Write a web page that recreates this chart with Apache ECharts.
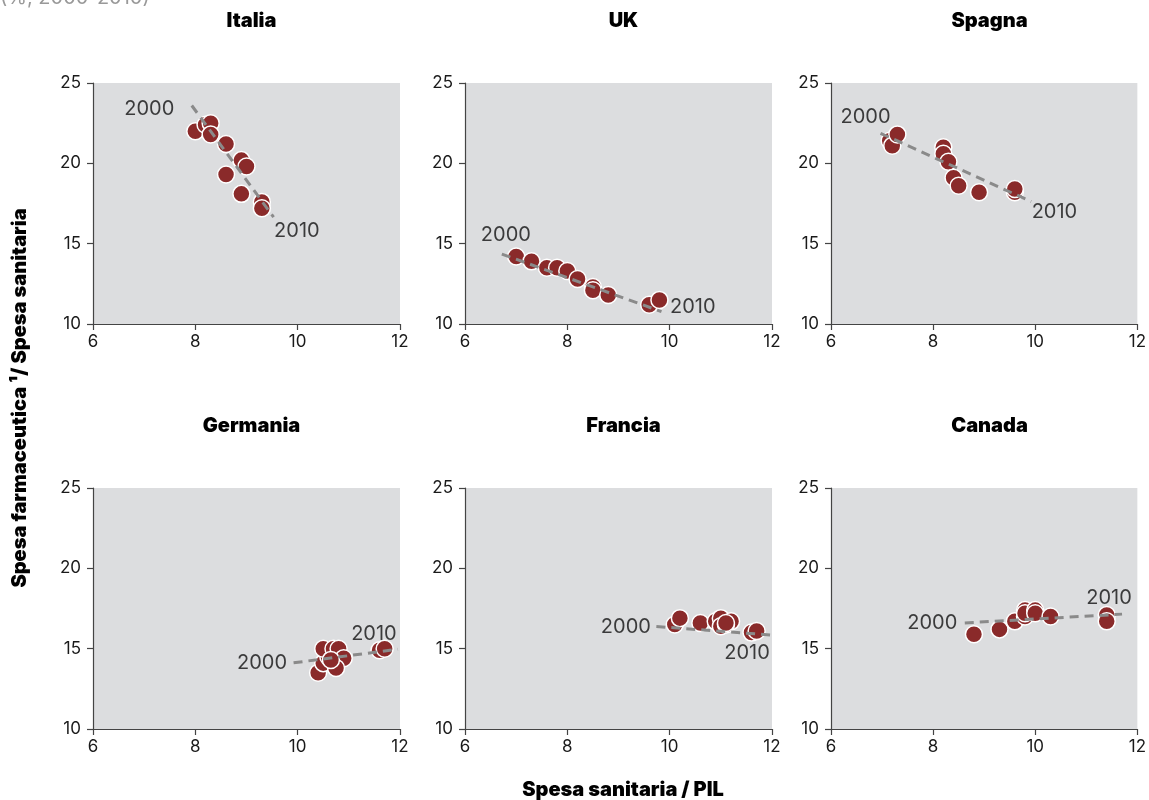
<!DOCTYPE html>
<html>
<head>
<meta charset="utf-8">
<script src="https://cdn.jsdelivr.net/npm/echarts@6/dist/echarts.min.js"></script>
<style>
html,body{margin:0;padding:0;background:#fff;}
#chart{width:1149px;height:800px;}
</style>
</head>
<body>
<div id="chart"></div>
<script>
// ---- Data ----
const countries = ['Italia', 'UK', 'Spagna', 'Germania', 'Francia', 'Canada'];
const yearStart = '2000';
const yearEnd = '2010';
const subtitle = '(%, 2000-2010)';
const xTitle = 'Spesa sanitaria / PIL';
const yTitle = 'Spesa farmaceutica \u00B9/ Spesa sanitaria';

const italia = [[8.0,22.0],[8.2,22.4],[8.3,22.5],[8.3,21.8],[8.6,21.2],[8.9,20.2],[9.0,19.8],[8.6,19.3],[8.9,18.1],[9.3,17.6],[9.3,17.2]];
const uk = [[7.0,14.2],[7.3,13.9],[7.6,13.5],[7.8,13.5],[8.0,13.3],[8.2,12.8],[8.5,12.3],[8.5,12.1],[8.8,11.8],[9.6,11.2],[9.8,11.5]];
const spagna = [[7.15,21.4],[7.2,21.1],[7.3,21.8],[8.2,21.0],[8.2,20.6],[8.3,20.1],[8.4,19.1],[8.5,18.6],[8.9,18.2],[9.6,18.2],[9.6,18.4]];
const germania = [[10.4,13.5],[10.5,14.1],[10.6,14.5],[10.5,15.0],[10.7,15.0],[10.8,15.0],[10.9,14.4],[10.75,13.8],[10.65,14.3],[11.6,14.9],[11.7,15.0]];
const francia = [[10.1,16.5],[10.2,16.9],[10.6,16.6],[10.9,16.7],[11.0,16.9],[11.2,16.7],[11.0,16.4],[11.1,16.5],[11.1,16.6],[11.6,16.0],[11.7,16.1]];
const canada = [[8.8,15.9],[9.3,16.2],[9.6,16.7],[9.8,17.0],[9.8,17.4],[9.8,17.2],[10.0,17.4],[10.0,17.2],[10.3,17.0],[11.4,17.1],[11.4,16.7]];

const trendItalia = [[7.93,23.6],[9.53,16.65]];
const trendUK = [[6.72,14.35],[9.84,10.77]];
const trendSpagna = [[6.97,21.87],[9.92,17.62]];
const trendGermania = [[9.92,14.12],[11.96,14.96]];
const trendFrancia = [[9.74,16.38],[11.98,15.85]];
const trendCanada = [[8.62,16.6],[11.7,17.15]];

const points = [italia, uk, spagna, germania, francia, canada];
const trends = [trendItalia, trendUK, trendSpagna, trendGermania, trendFrancia, trendCanada];

// ---- Layout / style ----
const gridLefts = [93, 465, 831, 93, 465, 831];
const gridTops = [83, 83, 83, 488, 488, 488];
const gridW = 307, gridH = 241;
const labelPos = [
  [['left', [-12, 3]], ['right', [-5, 14]]],
  [['top', [4, -4]], ['right', [3, -5]]],
  [['top', [-15, -1]], ['right', [-5, 10]]],
  [['left', [-1, 0]], ['top', [-24, 0]]],
  [['left', [0, 0]], ['bottom', [-24, 2]]],
  [['left', [-2, 0]], ['top', [-13, -1]]]
];
const FONT = 'Inter, "Noto Sans", sans-serif';

const grids = [], xAxes = [], yAxes = [], series = [], titles = [];
countries.forEach((name, i) => {
  grids.push({left: gridLefts[i], top: gridTops[i], width: gridW, height: gridH,
    show: true, backgroundColor: '#dcdddf', borderWidth: 0, containLabel: false});
  const axisCommon = {
    axisLine: {show: true, onZero: false, lineStyle: {color: '#444', width: 1.2}},
    axisTick: {show: true, inside: false, length: 6, lineStyle: {color: '#444', width: 1.2}},
    splitLine: {show: false},
    axisLabel: {color: '#1a1a1a', fontSize: 17, fontFamily: FONT}
  };
  xAxes.push(Object.assign({type: 'value', gridIndex: i, min: 6, max: 12, interval: 2}, axisCommon,
    {axisLabel: Object.assign({}, axisCommon.axisLabel, {margin: 9})}));
  yAxes.push(Object.assign({type: 'value', gridIndex: i, min: 10, max: 25, interval: 5}, axisCommon,
    {axisLabel: Object.assign({}, axisCommon.axisLabel, {margin: 12})}));
  titles.push({text: name, left: gridLefts[i] + gridW / 2, top: gridTops[i] - 77, textAlign: 'center',
    textStyle: {fontFamily: FONT, fontWeight: 900, fontSize: 20, color: '#000'}});

  series.push({type: 'scatter', xAxisIndex: i, yAxisIndex: i, data: points[i], symbolSize: 17,
    itemStyle: {color: '#8a2a2a', borderColor: '#fff', borderWidth: 1.5, opacity: 1}, z: 2, silent: true});
  series.push({type: 'line', xAxisIndex: i, yAxisIndex: i, data: trends[i], symbol: 'none',
    lineStyle: {color: '#8a8a8a', width: 3, type: [9, 6]}, z: 3, silent: true});
  const t = trends[i];
  series.push({type: 'scatter', xAxisIndex: i, yAxisIndex: i, symbolSize: 1, z: 4, silent: true,
    itemStyle: {color: 'transparent'},
    data: [
      {value: t[0], label: {show: true, formatter: yearStart, position: labelPos[i][0][0], offset: labelPos[i][0][1], distance: 5}},
      {value: t[t.length - 1], label: {show: true, formatter: yearEnd, position: labelPos[i][1][0], offset: labelPos[i][1][1], distance: 5}}
    ],
    label: {color: '#111', fontSize: 20, fontFamily: FONT}
  });
});

titles.push({text: xTitle, left: 618, top: 775, textAlign: 'center',
  textStyle: {fontFamily: FONT, fontWeight: 900, fontSize: 20, color: '#000'}});

const chart = echarts.init(document.getElementById('chart'), null, {renderer: 'canvas'});
chart.setOption({
  animation: false,
  backgroundColor: '#fff',
  title: titles,
  grid: grids,
  xAxis: xAxes,
  yAxis: yAxes,
  series: series,
  graphic: [
    {type: 'text', left: 0, top: -12, style: {text: subtitle, fill: '#999', fontSize: 20, fontFamily: FONT}},
    {type: 'text', x: 20, y: 398, rotation: Math.PI / 2,
      style: {text: yTitle, fill: '#000', fontSize: 20, fontWeight: 900, fontFamily: FONT, align: 'center', verticalAlign: 'middle'}}
  ]
});
</script>
</body>
</html>
